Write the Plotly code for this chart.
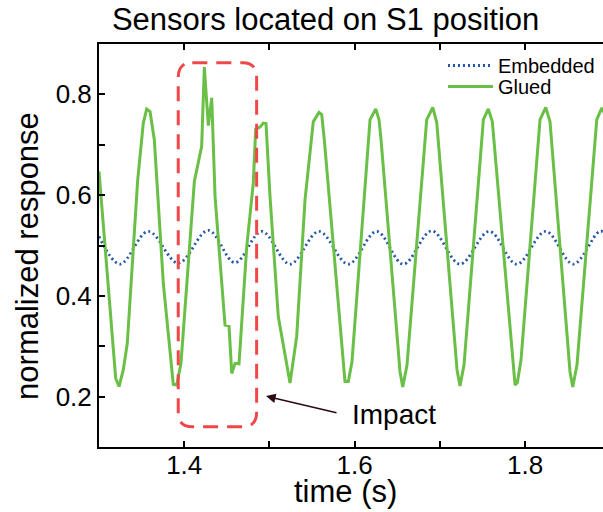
import plotly.graph_objects as go

# ---- data ----
glued_t = [1.3000, 1.3196, 1.3235, 1.3285, 1.3332, 1.3454, 1.3520, 1.3560, 1.3599, 1.3649,
           1.3755, 1.3872, 1.3912, 1.3962, 1.4119, 1.4205, 1.4236, 1.4283, 1.4323, 1.4362,
           1.4479, 1.4526, 1.4558, 1.4596, 1.4643, 1.4734, 1.4811, 1.4839, 1.4890, 1.4928,
           1.4960, 1.5007, 1.5104, 1.5242, 1.5320, 1.5418, 1.5515, 1.5582, 1.5614, 1.5644,
           1.5887, 1.5926, 1.5969, 1.6181, 1.6248, 1.6286, 1.6310, 1.6533, 1.6565, 1.6615,
           1.6846, 1.6917, 1.6964, 1.7202, 1.7237, 1.7284, 1.7511, 1.7569, 1.7616, 1.7859,
           1.7883, 1.7910, 1.7953, 1.8176, 1.8243, 1.8293, 1.8528, 1.8560, 1.8610, 1.8842,
           1.8900, 1.8939]
glued_v = [0.647, 0.236, 0.220, 0.253, 0.306, 0.630, 0.743, 0.771, 0.766, 0.710,
           0.425, 0.224, 0.223, 0.266, 0.627, 0.697, 0.854, 0.738, 0.793, 0.597,
           0.342, 0.340, 0.246, 0.266, 0.265, 0.498, 0.624, 0.731, 0.735, 0.743,
           0.742, 0.597, 0.359, 0.227, 0.319, 0.591, 0.746, 0.764, 0.760, 0.710,
           0.230, 0.230, 0.269, 0.750, 0.771, 0.750, 0.710, 0.249, 0.219, 0.263,
           0.750, 0.774, 0.744, 0.253, 0.221, 0.263, 0.750, 0.771, 0.746, 0.257,
           0.223, 0.228, 0.273, 0.750, 0.774, 0.746, 0.249, 0.219, 0.263, 0.750,
           0.773, 0.760]

embedded_t = [1.3000, 1.3246, 1.3579, 1.3931, 1.4283, 1.4596, 1.4910, 1.5242, 1.5582, 1.5926,
              1.6259, 1.6572, 1.6905, 1.7237, 1.7581, 1.7903, 1.8243, 1.8567, 1.8880, 1.9000]
embedded_v = [0.518, 0.463, 0.528, 0.465, 0.530, 0.466, 0.528, 0.463, 0.528, 0.463,
              0.528, 0.463, 0.529, 0.463, 0.528, 0.463, 0.528, 0.463, 0.528, 0.520]

x_ticks = [1.4, 1.5, 1.6, 1.7, 1.8]
x_tick_labels = ["1.4", "", "1.6", "", "1.8"]
y_ticks = [0.2, 0.3, 0.4, 0.5, 0.6, 0.7, 0.8]
y_tick_labels = ["0.2", "", "0.4", "", "0.6", "", "0.8"]

# impact box bounds (data units) and arrow target
box_x0, box_x1 = 1.393, 1.485
box_y0, box_y1 = 0.140, 0.863
box_rx, box_ry = 0.0165, 0.029
arrow_x, arrow_y = 1.496, 0.201
label_x, label_y = 1.6457, 0.165

FONT = "Liberation Sans, Arial, Helvetica, sans-serif"

fig = go.Figure()
fig.add_trace(go.Scatter(
    x=embedded_t, y=embedded_v, mode="lines", name="Embedded", legend="legend",
    line=dict(color="#2457a8", width=2.8, dash="2px,3px", shape="spline", smoothing=1.0),
))
fig.add_trace(go.Scatter(
    x=glued_t, y=glued_v, mode="lines", name="Glued", legend="legend2",
    line=dict(color="#6abf46", width=3),
))

path = (f"M {box_x0 + box_rx},{box_y1} L {box_x1 - box_rx},{box_y1} "
        f"Q {box_x1},{box_y1} {box_x1},{box_y1 - box_ry} "
        f"L {box_x1},{box_y0 + box_ry} Q {box_x1},{box_y0} {box_x1 - box_rx},{box_y0} "
        f"L {box_x0 + box_rx},{box_y0} Q {box_x0},{box_y0} {box_x0},{box_y0 + box_ry} "
        f"L {box_x0},{box_y1 - box_ry} Q {box_x0},{box_y1} {box_x0 + box_rx},{box_y1} Z")
fig.add_shape(type="path", path=path, xref="x", yref="y",
              line=dict(color="#f04848", width=3, dash="15px,9px"))

fig.add_annotation(x=arrow_x, y=arrow_y, xref="x", yref="y", text="",
                   showarrow=True, ax=72, ay=17, arrowhead=2, arrowsize=1.2,
                   arrowwidth=1.6, arrowcolor="#2a0a14", standoff=0)
fig.add_annotation(x=label_x, y=label_y, xref="x", yref="y", text="Impact",
                   showarrow=False, font=dict(family=FONT, size=28, color="black"))
# axis titles
fig.add_annotation(x=-0.141, y=0.474, xref="paper", yref="paper", text="normalized response",
                   textangle=-90, showarrow=False, xanchor="center", yanchor="middle",
                   font=dict(family=FONT, size=31, color="black"))
fig.add_annotation(x=0.49, y=-0.111, xref="paper", yref="paper", text="time (s)",
                   showarrow=False, xanchor="center", yanchor="middle",
                   font=dict(family=FONT, size=31, color="black"))

legend_style = dict(xanchor="left", yanchor="top", bgcolor="rgba(255,255,255,0)",
                    itemwidth=45, font=dict(family=FONT, size=20, color="black"))

fig.update_layout(
    width=603, height=512,
    margin=dict(l=99, r=0, t=44, b=65, autoexpand=False),
    paper_bgcolor="white", plot_bgcolor="white",
    font=dict(family=FONT, color="black"),
    title=dict(text="Sensors located on S1 position", x=0.54, xref="container",
               xanchor="center", y=0.962, yref="container", yanchor="middle",
               font=dict(family=FONT, size=31, color="black")),
    legend=dict(x=0.6825, y=0.995, **legend_style),
    legend2=dict(x=0.6825, y=0.943, **legend_style),
    showlegend=True,
)
fig.update_xaxes(range=[1.3, 1.8915], showgrid=False, zeroline=False, automargin=False,
                 showline=True, linecolor="black", linewidth=2, mirror="ticks",
                 ticks="inside", ticklen=6, tickwidth=1.5, tickcolor="black",
                 tickvals=x_ticks, ticktext=x_tick_labels, ticklabelstandoff=-6,
                 tickfont=dict(family=FONT, size=26, color="black"))
fig.update_yaxes(range=[0.1, 0.9], showgrid=False, zeroline=False, automargin=False,
                 showline=True, linecolor="black", linewidth=2, mirror=False,
                 ticks="inside", ticklen=6, tickwidth=1.5, tickcolor="black",
                 tickvals=y_ticks, ticktext=y_tick_labels,
                 tickfont=dict(family=FONT, size=26, color="black"))

fig.write_html("out.html", config={"displayModeBar": False},
               post_script="document.body.style.margin='0px';document.body.style.overflow='hidden';")
